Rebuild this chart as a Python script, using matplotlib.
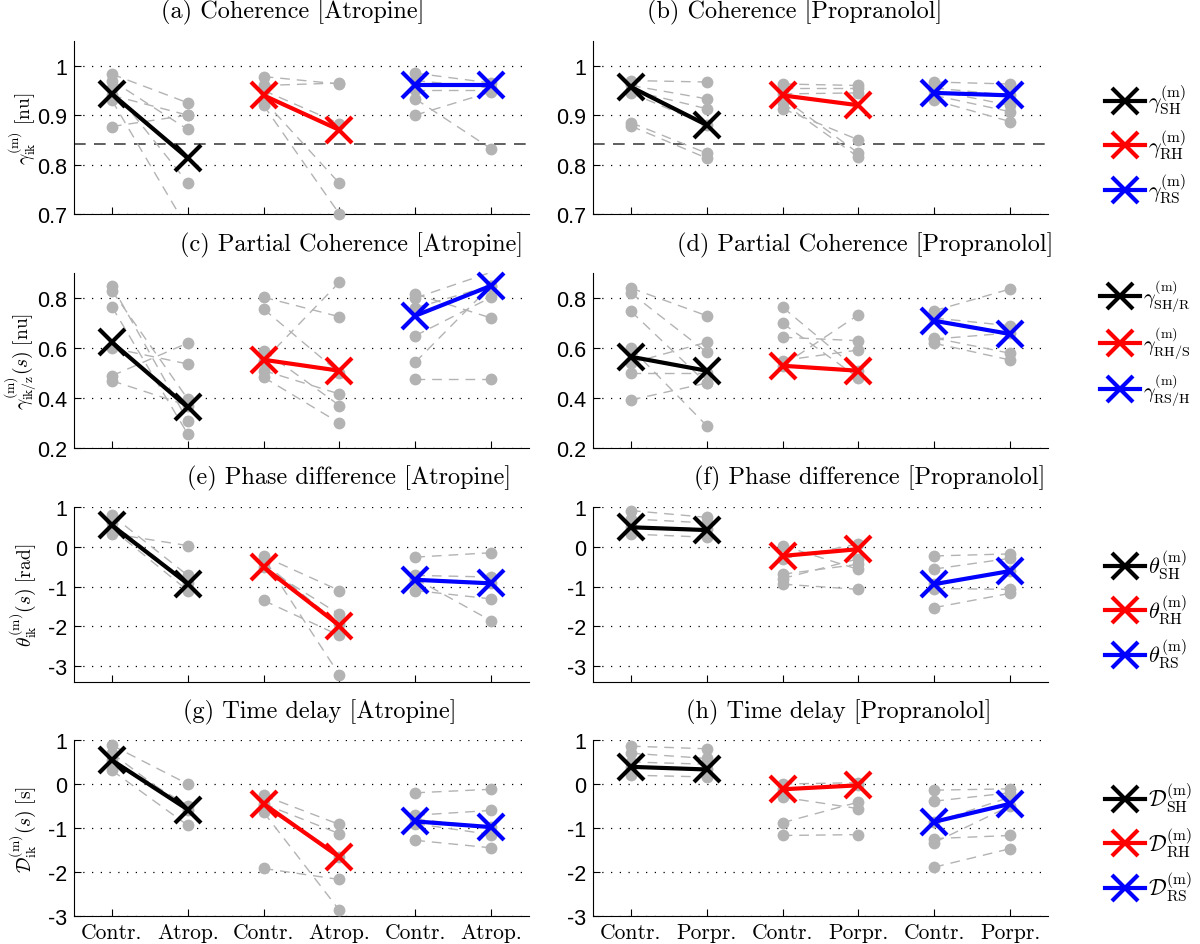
import matplotlib.pyplot as plt
from matplotlib.lines import Line2D
from matplotlib.ticker import FormatStrFormatter

plt.rcParams['font.family'] = 'Liberation Sans'
plt.rcParams['mathtext.fontset'] = 'cm'

# ---- data: [SH, RH, RS] per panel, control / drug values per subject ----
coh_atr_ctrl = [[0.983, 0.97, 0.955, 0.94, 0.93, 0.877],
                [0.978, 0.96, 0.95, 0.93, 0.92],
                [0.985, 0.97, 0.95, 0.933, 0.90]]
coh_atr_drug = [[0.925, 0.871, 0.763, 0.90, 0.67, 0.90],
                [0.963, 0.965, 0.883, 0.762, 0.70],
                [0.965, 0.955, 0.95, 0.832, 0.947]]
coh_atr_mean = [[0.943, 0.813], [0.94, 0.87], [0.96, 0.96]]

coh_pro_ctrl = [[0.97, 0.96, 0.95, 0.945, 0.885, 0.878],
                [0.963, 0.955, 0.943, 0.935, 0.925, 0.913],
                [0.967, 0.955, 0.95, 0.94, 0.93]]
coh_pro_drug = [[0.967, 0.933, 0.913, 0.88, 0.823, 0.813],
                [0.96, 0.955, 0.945, 0.823, 0.815, 0.85],
                [0.963, 0.94, 0.92, 0.907, 0.887]]
coh_pro_mean = [[0.957, 0.88], [0.94, 0.92], [0.945, 0.94]]

pc_atr_ctrl = [[0.849, 0.829, 0.765, 0.60, 0.489, 0.469],
               [0.803, 0.756, 0.59, 0.549, 0.51, 0.483],
               [0.816, 0.80, 0.76, 0.649, 0.543, 0.476]]
pc_atr_drug = [[0.309, 0.396, 0.256, 0.536, 0.62, 0.37],
               [0.725, 0.50, 0.37, 0.863, 0.416, 0.30],
               [0.72, 0.903, 0.85, 0.803, 0.85, 0.476]]
pc_atr_mean = [[0.623, 0.363], [0.553, 0.509], [0.729, 0.849]]

pc_pro_ctrl = [[0.84, 0.82, 0.747, 0.60, 0.54, 0.499, 0.392],
               [0.763, 0.699, 0.643, 0.53, 0.55],
               [0.749, 0.72, 0.636, 0.619, 0.64]]
pc_pro_drug = [[0.729, 0.583, 0.459, 0.289, 0.623, 0.499, 0.46],
               [0.51, 0.48, 0.629, 0.733, 0.592],
               [0.836, 0.689, 0.66, 0.552, 0.579]]
pc_pro_mean = [[0.565, 0.509], [0.529, 0.509], [0.709, 0.656]]

ph_atr_ctrl = [[0.79, 0.6, 0.45, 0.33],
               [-0.24, -0.3, -0.5, -0.4, -1.35],
               [-0.26, -0.72, -0.84, -1.1, -0.8]]
ph_atr_drug = [[-0.72, -0.9, -1.1, 0.03],
               [-1.1, -3.22, -1.7, -1.95, -2.23],
               [-0.15, -0.76, -0.92, -1.31, -1.86]]
ph_atr_mean = [[0.54, -0.93], [-0.51, -1.98], [-0.83, -0.92]]

ph_pro_ctrl = [[0.91, 0.7, 0.5, 0.32],
               [0.03, -0.3, -0.69, -0.94, -0.8],
               [-0.23, -0.56, -0.93, -1.53, -1.05]]
ph_pro_drug = [[0.74, 0.6, 0.45, 0.24],
               [-0.57, 0.07, -0.44, -1.07, -0.3],
               [-0.18, -0.29, -0.6, -1.17, -1.07]]
ph_pro_mean = [[0.49, 0.42], [-0.23, -0.06], [-0.94, -0.61]]

td_atr_ctrl = [[0.88, 0.7, 0.55, 0.31],
               [-0.26, -0.45, -0.64, -1.92, -0.5],
               [-0.2, -0.71, -0.9, -1.28, -0.8]]
td_atr_drug = [[0.0, -0.6, -0.49, -0.94],
               [-0.92, -1.13, -2.87, -2.17, -1.65],
               [-0.12, -0.6, -1.15, -1.45, -0.98]]
td_atr_mean = [[0.54, -0.58], [-0.45, -1.66], [-0.85, -0.98]]

td_pro_ctrl = [[0.86, 0.7, 0.5, 0.39, 0.2],
               [0.0, -0.12, -0.88, -1.17, -0.3],
               [-0.14, -0.39, -0.87, -1.24, -1.33, -1.89]]
td_pro_drug = [[0.8, 0.58, 0.45, 0.33, 0.16],
               [0.03, -0.02, -0.41, -1.15, -0.56],
               [-0.11, -0.2, -0.3, -1.17, -0.5, -1.47]]
td_pro_mean = [[0.39, 0.33], [-0.12, -0.03], [-0.86, -0.45]]

coh_threshold = 0.842

atr_labels = ['Contr.', 'Atrop.', 'Contr.', 'Atrop.', 'Contr.', 'Atrop.']
pro_labels = ['Contr.', 'Porpr.', 'Contr.', 'Porpr.', 'Contr.', 'Porpr.']

titles = ['(a) Coherence [Atropine]', '(b) Coherence [Propranolol]',
          '(c) Partial Coherence [Atropine]', '(d) Partial Coherence [Propranolol]',
          '(e) Phase difference [Atropine]', '(f) Phase difference [Propranolol]',
          '(g) Time delay [Atropine]', '(h) Time delay [Propranolol]']

ylabels = [r'$\gamma^{(\mathrm{m})}_{\mathrm{ik}}\ [\mathrm{nu}]$',
           r'$\gamma^{(\mathrm{m})}_{\mathrm{ik/z}}(s)\ [\mathrm{nu}]$',
           r'$\theta^{(\mathrm{m})}_{\mathrm{ik}}(s)\ [\mathrm{rad}]$',
           r'$\mathcal{D}^{(\mathrm{m})}_{\mathrm{ik}}(s)\ [\mathrm{s}]$']

legend_labels = [
    [r'$\gamma^{(\mathrm{m})}_{\mathrm{SH}}$', r'$\gamma^{(\mathrm{m})}_{\mathrm{RH}}$', r'$\gamma^{(\mathrm{m})}_{\mathrm{RS}}$'],
    [r'$\gamma^{(\mathrm{m})}_{\mathrm{SH/R}}$', r'$\gamma^{(\mathrm{m})}_{\mathrm{RH/S}}$', r'$\gamma^{(\mathrm{m})}_{\mathrm{RS/H}}$'],
    [r'$\theta^{(\mathrm{m})}_{\mathrm{SH}}$', r'$\theta^{(\mathrm{m})}_{\mathrm{RH}}$', r'$\theta^{(\mathrm{m})}_{\mathrm{RS}}$'],
    [r'$\mathcal{D}^{(\mathrm{m})}_{\mathrm{SH}}$', r'$\mathcal{D}^{(\mathrm{m})}_{\mathrm{RH}}$', r'$\mathcal{D}^{(\mathrm{m})}_{\mathrm{RS}}$'],
]

colors = ['black', (1, 0, 0), (0, 0, 1)]
grey = '#b3b3b3'

fig = plt.figure(figsize=(12, 9.45), dpi=100)

# axes boxes in figure pixels (left, top, right, bottom)
col_x = [(74, 529), (593, 1048)]
row_y = [(42, 215), (274, 449), (508, 683), (741, 917)]
ylims = [(0.7, 1.05), (0.2, 0.9), (-3.4, 1), (-3, 1)]
yticks = [[0.7, 0.8, 0.9, 1], [0.2, 0.4, 0.6, 0.8], [-3, -2, -1, 0, 1], [-3, -2, -1, 0, 1]]
title_pos = [[(293, 12), (795, 12)], [(352, 245), (865, 245)],
             [(349, 478), (870, 478)], [(320, 712), (839, 712)]]
legend_y = [145, 343, 610, 843]
legend_x = [1105, 1100, 1105, 1105]
legend_fs = [16, 14.5, 16, 16]

panels = [[(coh_atr_ctrl, coh_atr_drug, coh_atr_mean), (coh_pro_ctrl, coh_pro_drug, coh_pro_mean)],
          [(pc_atr_ctrl, pc_atr_drug, pc_atr_mean), (pc_pro_ctrl, pc_pro_drug, pc_pro_mean)],
          [(ph_atr_ctrl, ph_atr_drug, ph_atr_mean), (ph_pro_ctrl, ph_pro_drug, ph_pro_mean)],
          [(td_atr_ctrl, td_atr_drug, td_atr_mean), (td_pro_ctrl, td_pro_drug, td_pro_mean)]]

W, H = 1200, 945
for r in range(4):
    for c in range(2):
        x0, x1 = col_x[c]
        y0, y1 = row_y[r]
        ax = fig.add_axes([x0 / W, 1 - y1 / H, (x1 - x0) / W, (y1 - y0) / H])
        ctrl, drug, mean = panels[r][c]
        lo, hi = ylims[r]
        for g in range(3):
            xa, xb = 2 * g + 1, 2 * g + 2
            for a, b in zip(ctrl[g], drug[g]):
                ax.plot([xa, xb], [a, b], ls=(0, (7, 5)), color=grey, lw=1, zorder=2)
            px = [xa] * len(ctrl[g]) + [xb] * len(drug[g])
            py = list(ctrl[g]) + list(drug[g])
            keep = [i for i in range(len(py)) if lo - 0.005 <= py[i] <= hi]
            ax.plot([px[i] for i in keep], [py[i] for i in keep], 'o', color=grey,
                    ms=8.5, mec='none', zorder=3, clip_on=False)
            ax.plot([xa, xb], mean[g], color=colors[g], lw=3, marker='x', ms=19, mew=3,
                    zorder=5, clip_on=False)
        if r == 0:
            ax.axhline(coh_threshold, color='#444444', ls=(0, (7, 5)), lw=1.2, zorder=1)
        ax.set_xlim(0.5, 6.5)
        ax.set_ylim(lo, hi)
        ax.set_yticks(yticks[r])
        ax.yaxis.set_major_formatter(FormatStrFormatter('%g'))
        ax.set_xticks(range(1, 7))
        if r == 3:
            ax.set_xticklabels(atr_labels if c == 0 else pro_labels, family='cmr10', fontsize=15.5)
        else:
            ax.set_xticklabels([])
        ax.grid(axis='y', ls=(0, (1, 6)), color='black', lw=0.9)
        ax.spines['top'].set_visible(False)
        ax.spines['right'].set_visible(False)
        ax.tick_params(direction='in', length=5, labelsize=15.5, pad=5)
        if c == 0:
            ax.set_ylabel(ylabels[r], fontsize=14)
            ax.yaxis.set_label_coords(-0.08, 0.5)
        tx, ty = title_pos[r][c]
        fig.text(tx / W, 1 - ty / H, titles[2 * r + c], family='cmr10', fontsize=17.5,
                 ha='center', va='center')
        if c == 1:
            handles = [Line2D([], [], color=colors[g], lw=3, marker='x', ms=19, mew=3)
                       for g in range(3)]
            fig.legend(handles, legend_labels[r], loc='center left',
                       bbox_to_anchor=(legend_x[r] / W, 1 - legend_y[r] / H), frameon=False,
                       fontsize=legend_fs[r], handlelength=1.8 * 16 / legend_fs[r],
                       handletextpad=0.15, borderpad=0, borderaxespad=0,
                       labelspacing=0.5 * 16 / legend_fs[r])

fig.savefig('out.png', dpi=100)
